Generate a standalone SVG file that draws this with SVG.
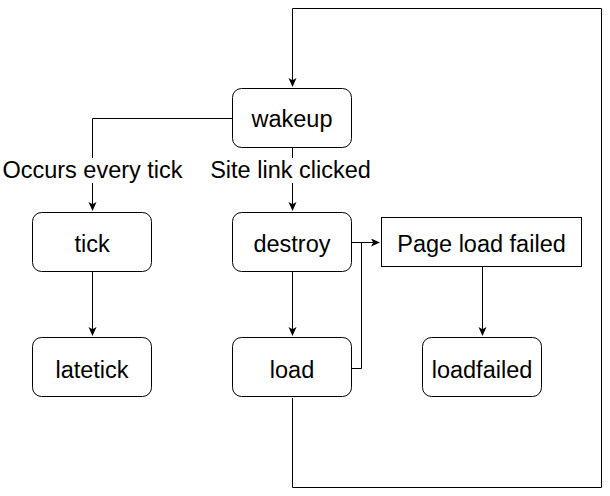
<svg xmlns="http://www.w3.org/2000/svg" width="610" height="496" viewBox="0 0 610 496">
<style>
.n{fill:#fff;stroke:#000;stroke-width:1}
.t{font-family:"Liberation Sans",Arial,sans-serif;font-size:23.5px;fill:#000;text-anchor:middle}
.e{fill:none;stroke:#000;stroke-width:1}
.lb{fill:#fff}
</style>
<defs>
<marker id="a" markerWidth="10" markerHeight="10" refX="8" refY="4" orient="auto" markerUnits="userSpaceOnUse">
<path d="M0,0 L9,4 L0,8 L2.2,4 Z" fill="#000"/>
</marker>
</defs>
<g id="connectors">
<path class="e" d="M292.5,398 V487.5 H601.5 V8.5 H292.5 V86" marker-end="url(#a)"/>
<path class="e" d="M232,118.5 H92.5 V210" marker-end="url(#a)"/>
<path class="e" d="M292.5,148 V210" marker-end="url(#a)"/>
<path class="e" d="M92.5,272 V335" marker-end="url(#a)"/>
<path class="e" d="M292.5,272 V335" marker-end="url(#a)"/>
<path class="e" d="M352,242.5 H379" marker-end="url(#a)"/>
<path class="e" d="M352,368.5 H361.5 V242.5 H370"/>
<path class="e" d="M482.5,267 V335" marker-end="url(#a)"/>
<rect class="lb" x="0" y="158" width="185" height="25"/>
<text class="t" x="92.5" y="178">Occurs every tick</text>
<rect class="lb" x="207" y="158" width="167" height="25"/>
<text class="t" x="290.5" y="178">Site link clicked</text>
</g>
<g id="wakeup"><rect class="n" x="232.5" y="88.5" width="119" height="59" rx="9"/><text class="t" x="292" y="127">wakeup</text></g>
<g id="tick"><rect class="n" x="32.5" y="212.5" width="119" height="59" rx="9"/><text class="t" x="92" y="252">tick</text></g>
<g id="latetick"><rect class="n" x="32.5" y="337.5" width="119" height="59" rx="9"/><text class="t" x="92" y="378">latetick</text></g>
<g id="destroy"><rect class="n" x="232.5" y="212.5" width="119" height="59" rx="9"/><text class="t" x="292" y="252">destroy</text></g>
<g id="load"><rect class="n" x="232.5" y="337.5" width="119" height="59" rx="9"/><text class="t" x="292" y="378">load</text></g>
<g id="pageloadfailed"><rect class="n" x="381.5" y="217.5" width="200" height="49"/><text class="t" x="481.5" y="252">Page load failed</text></g>
<g id="loadfailed"><rect class="n" x="422.5" y="337.5" width="119" height="59" rx="9"/><text class="t" x="482" y="378">loadfailed</text></g>
</svg>
